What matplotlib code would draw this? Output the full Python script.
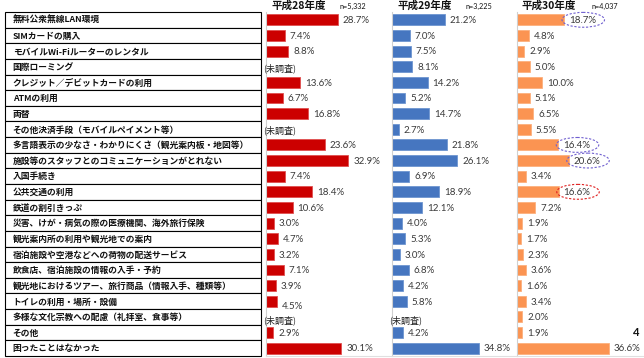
import matplotlib
matplotlib.use("Agg")
import matplotlib.pyplot as plt
from matplotlib.patches import Rectangle, Ellipse
import numpy as np

plt.rcParams['font.family'] = ['Noto Sans CJK JP', 'DejaVu Sans']

categories = [
    "無料公衆無線LAN環境",
    "SIMカードの購入",
    "モバイルWi-Fiルーターのレンタル",
    "国際ローミング",
    "クレジット／デビットカードの利用",
    "ATMの利用",
    "両替",
    "その他決済手段（モバイルペイメント等）",
    "多言語表示の少なさ・わかりにくさ（観光案内板・地図等）",
    "施設等のスタッフとのコミュニケーションがとれない",
    "入国手続き",
    "公共交通の利用",
    "鉄道の割引きっぷ",
    "災害、けが・病気の際の医療機関、海外旅行保険",
    "観光案内所の利用や観光地での案内",
    "宿泊施設や空港などへの荷物の配送サービス",
    "飲食店、宿泊施設の情報の入手・予約",
    "観光地におけるツアー、旅行商品（情報入手、種類等）",
    "トイレの利用・場所・設備",
    "多様な文化宗教への配慮（礼拝室、食事等）",
    "その他",
    "困ったことはなかった",
]

h28 = [28.7, 7.4, 8.8, None, 13.6, 6.7, 16.8, None, 23.6, 32.9, 7.4, 18.4,
       10.6, 3.0, 4.7, 3.2, 7.1, 3.9, 4.5, None, 2.9, 30.1]
h29 = [21.2, 7.0, 7.5, 8.1, 14.2, 5.2, 14.7, 2.7, 21.8, 26.1, 6.9, 18.9,
       12.1, 4.0, 5.3, 3.0, 6.8, 4.2, 5.8, None, 4.2, 34.8]
h30 = [18.7, 4.8, 2.9, 5.0, 10.0, 5.1, 6.5, 5.5, 16.4, 20.6, 3.4, 16.6,
       7.2, 1.9, 1.7, 2.3, 3.6, 1.6, 3.4, 2.0, 1.9, 36.6]

series_titles = ["平成28年度", "平成29年度", "平成30年度"]
series_n = ["n=5,332", "n=3,225", "n=4,037"]
not_surveyed = "(未調査)"
highlight_blue = [0, 8, 9]
highlight_red = [11]

W, H = 644, 358
fig = plt.figure(figsize=(W / 100, H / 100), dpi=100)
fig.patch.set_facecolor("white")


def fr(x, y, w, h):
    return [x / W, 1 - (y + h) / H, w / W, h / H]


n = len(categories)
top, bottom = 12, 356

# label table
tab = fig.add_axes(fr(5, top, 256, bottom - top))
tab.set_xlim(0, 1)
tab.set_ylim(n, 0)
tab.axis("off")
for i, c in enumerate(categories):
    tab.add_patch(Rectangle((0, i), 1, 1, facecolor="white", edgecolor="black",
                            lw=0.8, clip_on=False))
    tab.text(0.03, i + 0.55, c, fontsize=6.3, fontweight="bold", color="#111111",
             va="center", ha="left")

scale = 2.5  # px per %
panel_lefts = [266, 392, 517]
panel_w = 122
colors = ["#CC0000", "#4676C0", "#FB9452"]
edges = ["#E05050", "#6E95D0", "#FDB07E"]
series = [h28, h29, h30]

label_font = ['Lato', 'DejaVu Sans']
for k, (vals, left) in enumerate(zip(series, panel_lefts)):
    ax = fig.add_axes(fr(left, top, panel_w, bottom - top))
    ax.set_xlim(0, panel_w / scale)
    ax.set_ylim(n, 0)
    for s in ["top", "right", "bottom"]:
        ax.spines[s].set_visible(False)
    ax.spines["left"].set_color("#d0d0d0")
    ax.spines["left"].set_linewidth(0.8)
    ax.set_xticks([])
    ax.set_yticks([])
    ax.patch.set_alpha(0)
    y = np.arange(n) + 0.5
    for i, v in enumerate(vals):
        if v is None:
            dy = 0.1 if i != 19 else 0.2
            ax.text(-1.3, y[i] + dy, not_surveyed, fontsize=6.5, color="#222222",
                    va="center", ha="left", clip_on=False)
            continue
        ax.barh(y[i], v, height=0.7, color=colors[k], edgecolor=edges[k], lw=0.6)
        dy = 0.35 if (k == 0 and i == 18) else 0.05
        ax.text(v + 2.0, y[i] + dy, f"{v:.1f}%", fontsize=7, color="#3a3a3a",
                va="center", ha="left", family=label_font)
    if k == 2:
        for i in highlight_blue + highlight_red:
            col = "#7060D0" if i in highlight_blue else "#E02020"
            ax.add_patch(Ellipse((vals[i] + 7.8, y[i]), 17.0, 0.95, fill=False,
                                 edgecolor=col, lw=0.8, ls=(0, (2, 1.5)),
                                 clip_on=False))
    fig.text((left + 5) / W, 1 - 6 / H, series_titles[k], fontsize=7.6,
             fontweight="bold", va="center", ha="left", color="#111111")
    fig.text((left + 74) / W, 1 - 6 / H, series_n[k], fontsize=5.2,
             va="center", ha="left", color="#111111", family=label_font)

# faint bottom rule
fig.add_artist(plt.Line2D([266 / W, 1], [1 - 355.5 / H, 1 - 355.5 / H],
                          color="#e0e0e0", lw=0.8))
fig.text(636 / W, 1 - 333 / H, "4", fontsize=8, fontweight="bold",
         va="center", ha="center", color="#111111", family=label_font)

fig.savefig("out.png", dpi=100, facecolor="white")
